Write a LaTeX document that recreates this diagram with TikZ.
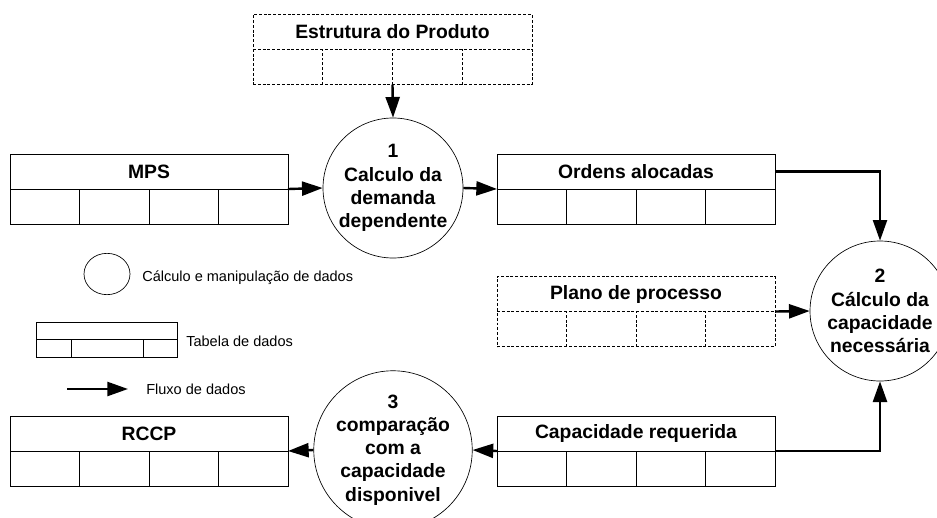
\documentclass[tikz,border=0pt]{standalone}
\usepackage{fontspec}
\setmainfont{Liberation Sans}
\usetikzlibrary{arrows.meta,calc,shapes.geometric}
\tikzset{
  tblbox/.style={draw, line width=0.7pt, inner sep=0pt, outer sep=0pt, minimum height=52.5pt},
  dsh/.style={dash pattern=on 2.2pt off 1.4pt},
  solidl/.style={},
  tbltext/.style={font=\fontsize{14.5}{17.25}\selectfont\bfseries, inner sep=0pt},
  proc/.style={circle, draw, line width=0.5pt, minimum size=105pt, inner sep=0pt, align=center,
    font=\fontsize{14.5}{17.4}\selectfont\bfseries},
  flow/.style={line width=1.8pt, -{Triangle[length=15.5pt,width=10.5pt]}},
  legtext/.style={font=\fontsize{10.9}{13}\selectfont, inner sep=0pt, anchor=west},
}
% #1 name, #2 x, #3 y (px), #4 width (px), #5 label, #6 line style
\newcommand{\dtable}[6]{%
  \node[tblbox,#6, minimum width=#4*0.75pt] (#1) at (#2,#3) {};
  \draw[line width=0.7pt,#6] (#1.west) -- (#1.east);
  \foreach \fr in {0.25,0.5,0.75}
    \draw[line width=0.7pt,#6] ($(#1.south west)!\fr!(#1.south east)$) -- ($(#1.west)!\fr!(#1.east)$);
  \node[tbltext] (#1-t) at ($(#1.north)!0.5!(#1.center)$) {#5};
}
\begin{document}
\begin{tikzpicture}[x=0.75pt,y=-0.75pt]
\useasboundingbox (0,0) rectangle (937,517);

% tables
\dtable{est}{392.5}{49.5}{279}{Estrutura do Produto}{dsh}
\dtable{mps}{149}{189}{278}{MPS}{solidl}
\dtable{ord}{636}{189}{278}{Ordens alocadas}{solidl}
\dtable{pla}{636}{311.5}{278}{Plano de processo}{dsh}
\dtable{cap}{636}{451}{278}{Capacidade requerida}{solidl}
\dtable{rccp}{149}{451}{278}{RCCP}{solidl}

% processes
\node[proc] (c1) at (393,188) {1\\Calculo da\\demanda\\dependente};
\node[proc] (c2) at (880,311) {2\\Cálculo da\\capacidade\\necessária};
\node[proc] (c3) at (393,450) {3\\comparação\\com a\\capacidade\\disponivel};

% flows
\draw[flow] (est.south) -- (c1.north);
\draw[flow] (mps.east) -- (c1.west);
\draw[flow] (c1.east) -- (ord.west);
\draw[flow] ($(ord.north east)!0.5!(ord.east)$) -| (c2.north);
\draw[flow] (pla.east) -- (c2.west);
\draw[flow] (cap.east) -| (c2.south);
\draw[flow] (cap.west) -- (c3.east);
\draw[flow] (c3.west) -- (rccp.east);

% legend
\node[ellipse, draw, line width=0.5pt, minimum width=34.5pt, minimum height=31pt, inner sep=0pt] (legc) at (107,274) {};
\node[legtext] (legct) at (142,278) {Cálculo e manipulação de dados};

\node[tblbox, minimum width=105.75pt, minimum height=26.25pt] (legt) at (106.5,339.5) {};
\draw[line width=0.7pt] (legt.west) -- (legt.east);
\draw[line width=0.7pt] ($(legt.south west)!0.255!(legt.south east)$) -- ($(legt.west)!0.255!(legt.east)$);
\draw[line width=0.7pt] ($(legt.south west)!0.76!(legt.south east)$) -- ($(legt.west)!0.76!(legt.east)$);
\node[legtext] (legtt) at (186,341) {Tabela de dados};

\coordinate (fa) at (67,389);
\coordinate (fb) at (128,389);
\draw[flow] (fa) -- (fb);
\node[legtext] (legft) at (146,389) {Fluxo de dados};
\end{tikzpicture}
\end{document}
